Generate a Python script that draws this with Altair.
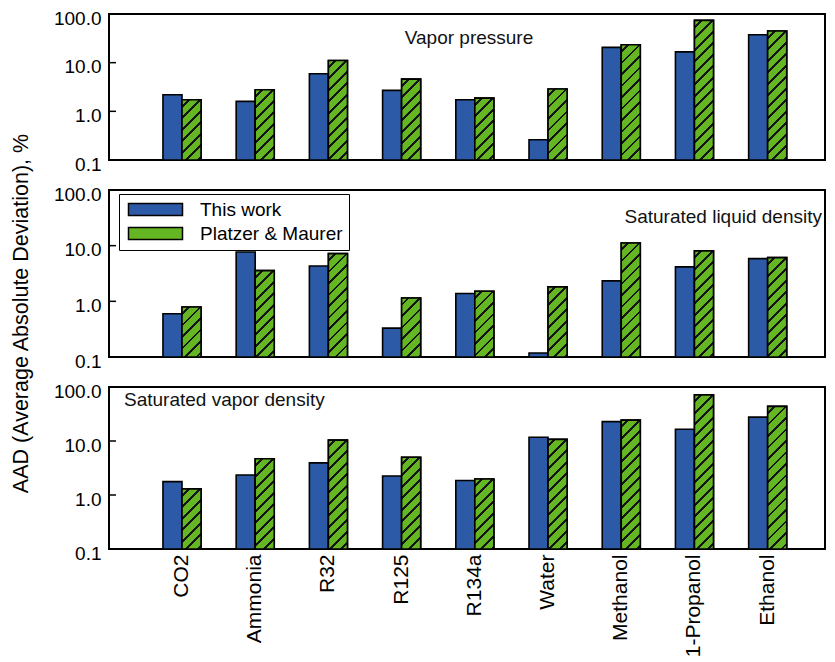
import math
import altair as alt
import pandas as pd

# ---------------- data ----------------
substances = ["CO2", "Ammonia", "R32", "R125", "R134a", "Water",
              "Methanol", "1-Propanol", "Ethanol"]
series_names = ["This work", "Platzer & Maurer"]

vapor_pressure_this = [2.19, 1.60, 5.9, 2.7, 1.73, 0.26, 20.6, 16.7, 37.4]
vapor_pressure_pm = [1.73, 2.78, 11.1, 4.6, 1.87, 2.87, 23.3, 74.0, 44.6]

liquid_density_this = [0.60, 7.7, 4.3, 0.33, 1.38, 0.118, 2.33, 4.16, 5.86]
liquid_density_pm = [0.79, 3.56, 7.2, 1.15, 1.52, 1.82, 11.2, 8.06, 6.1]

vapor_density_this = [1.77, 2.34, 3.93, 2.25, 1.85, 11.7, 22.8, 16.5, 27.7]
vapor_density_pm = [1.30, 4.7, 10.4, 5.0, 1.98, 10.7, 24.4, 71.6, 43.8]

y_ticks = [0.1, 1, 10, 100]
inner_ticks = [1, 10]
y_title = "AAD (Average Absolute Deviation), %"

# ---------------- style ----------------
BLUE = "#2C5AA6"
GREEN = "#64B722"
HATCH = "#151515"
FONT = "Liberation Sans"

PLOT_W = 716
PAD_INNER = 0.48
PAD_OUTER = 0.63
BAND_ALIGN = 0.585
STEP = PLOT_W / (len(substances) - PAD_INNER + 2 * PAD_OUTER)
BAR_W = STEP * (1 - PAD_INNER) / 2


def hatch_fill(value, panel_h):
    """Diagonal hatch as a bounding-box linear gradient (style only)."""
    h = panel_h * (math.log10(value) + 1) / 3.0
    w = BAR_W
    L = w + h
    k = L / (w * w + h * h)
    spacing = 11.5
    half = 1.4
    stops = [{"offset": 0, "color": GREEN}]
    pos = spacing * 0.6
    while pos - half < L:
        a = max(0.0, (pos - half) / L)
        b = min(1.0, (pos + half) / L)
        stops += [{"offset": a, "color": GREEN}, {"offset": a, "color": HATCH},
                  {"offset": b, "color": HATCH}, {"offset": b, "color": GREEN}]
        pos += spacing
    stops.append({"offset": 1, "color": GREEN})
    return {"gradient": "linear", "x1": 0, "y1": 0, "x2": k * w, "y2": k * h,
            "stops": stops}


def panel(this_vals, pm_vals, height, label, label_x, label_y, label_align,
          show_x=False, show_legend=False, show_title=False):
    df = pd.DataFrame({
        "substance": substances * 2,
        "series": [series_names[0]] * len(substances) + [series_names[1]] * len(substances),
        "value": this_vals + pm_vals,
    })
    x_axis = (alt.Axis(title=None, labelAngle=270, labelFontSize=21, labelFont=FONT,
                       labelColor="black", labelPadding=5, ticks=False, domain=False)
              if show_x else None)
    x = alt.X("substance:N", sort=substances,
              scale=alt.Scale(domain=substances, paddingInner=PAD_INNER,
                              paddingOuter=PAD_OUTER, align=BAND_ALIGN),
              axis=x_axis)
    xo = alt.XOffset("series:N", sort=series_names,
                     scale=alt.Scale(domain=series_names, paddingInner=0, paddingOuter=0))
    axis_kw = dict(values=y_ticks, format=".1f", labelFontSize=19, labelFont=FONT,
                   labelColor="black", labelPadding=8, labelOffset=4, ticks=False,
                   domain=False, grid=False)
    if show_title:
        axis_kw.update(title=y_title, titleFontSize=21.5, titleFont=FONT,
                       titleFontWeight="normal", titleColor="black", titleX=-88,
                       titleY=123, titleAngle=270, titleBaseline="middle",
                       titleAlign="center")
    else:
        axis_kw.update(title=None)
    y = alt.Y("value:Q", scale=alt.Scale(type="log", domain=[0.1, 100], nice=False),
              axis=alt.Axis(**axis_kw))

    if show_legend:
        legend = alt.Legend(title=None, orient="none", legendX=10, legendY=4,
                            direction="vertical", symbolType="M-1,-1H8V1H-1Z",
                            symbolSize=144, symbolStrokeColor="black",
                            symbolStrokeWidth=1.5, symbolOpacity=1,
                            labelFontSize=19, labelFont=FONT, labelColor="black",
                            labelOffset=56, rowPadding=4, padding=6,
                            strokeColor="black", labelLimit=300)
    else:
        legend = None
    color = alt.Color("series:N", sort=series_names,
                      scale=alt.Scale(domain=series_names, range=[BLUE, GREEN]),
                      legend=legend)

    bars = alt.Chart(df).mark_bar(stroke="black", strokeWidth=1.6).encode(
        x=x, xOffset=xo, y=y, y2=alt.datum(0.1), color=color)

    layers = [bars]
    for name, v in zip(substances, pm_vals):
        layers.append(
            alt.Chart(df).transform_filter(
                (alt.datum.substance == name) & (alt.datum.series == series_names[1])
            ).mark_bar(fill=hatch_fill(v, height), stroke="black", strokeWidth=1.6)
            .encode(x=x, xOffset=xo, y=y, y2=alt.datum(0.1))
        )

    ticks = alt.Chart(pd.DataFrame({"value": inner_ticks})).mark_rule(
        color="black", strokeWidth=1.5).encode(
        y=y, x=alt.value(0), x2=alt.value(7))
    layers.append(ticks)

    text = alt.Chart(pd.DataFrame({"label": [label]})).mark_text(
        align=label_align, baseline="middle", fontSize=19, font=FONT,
        color="#111111").encode(
        text="label:N", x=alt.value(label_x), y=alt.value(label_y))
    layers.append(text)

    return alt.layer(*layers).properties(width=PLOT_W, height=height)


p1 = panel(vapor_pressure_this, vapor_pressure_pm, 146, "Vapor pressure",
           360, 24, "center")
p2 = panel(liquid_density_this, liquid_density_pm, 167, "Saturated liquid density",
           713, 27, "right", show_legend=True, show_title=True)
p3 = panel(vapor_density_this, vapor_density_pm, 162, "Saturated vapor density",
           15, 13, "left", show_x=True)

chart = alt.vconcat(p1, p2, p3, spacing=30, bounds="flush").resolve_scale(
    color="independent"
).properties(
    padding=0
).configure_view(
    stroke="black", strokeWidth=2
)

chart.save("out.html", embed_options={"renderer": "svg", "actions": False})
